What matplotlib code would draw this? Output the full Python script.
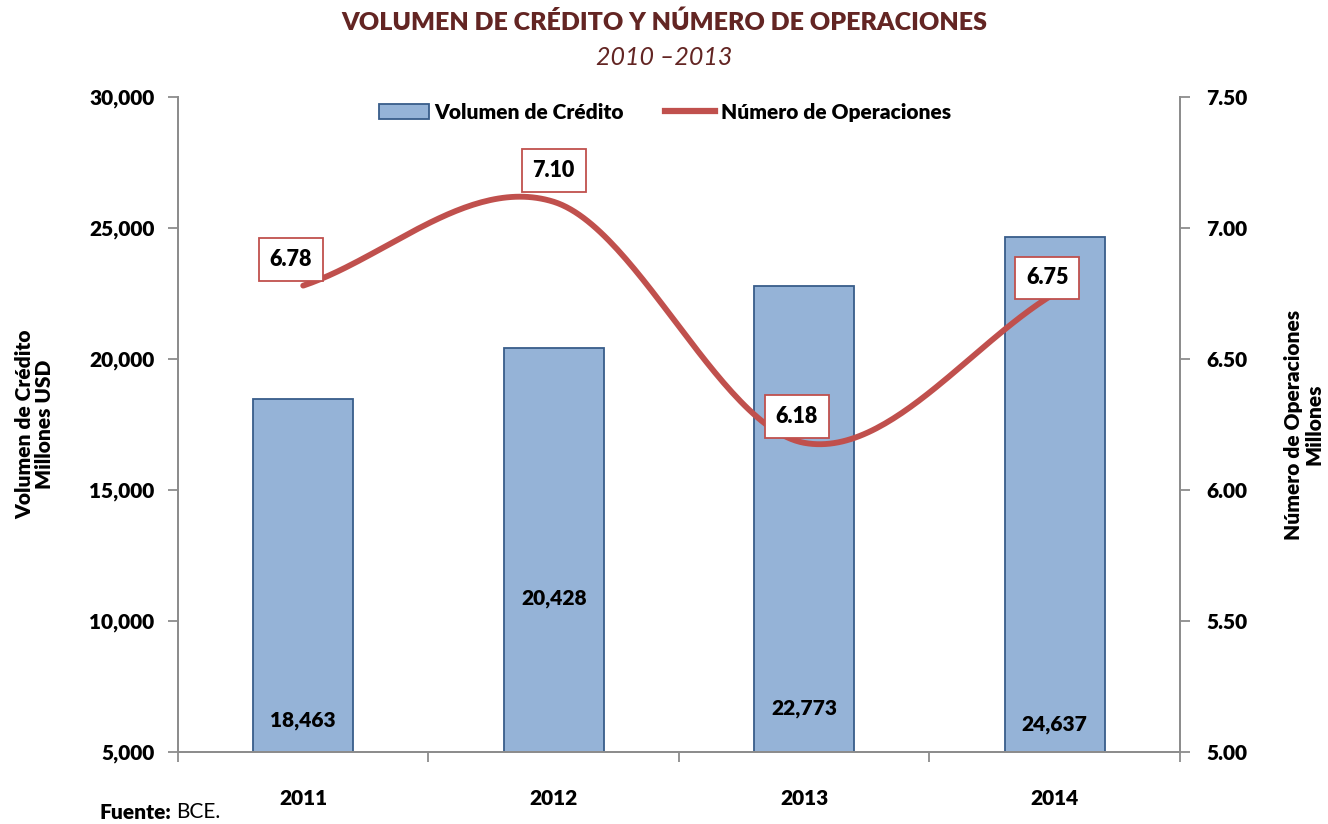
import matplotlib
matplotlib.use("Agg")
import matplotlib.pyplot as plt
import numpy as np
from matplotlib.patches import Patch
from matplotlib.lines import Line2D

plt.rcParams['font.family'] = ['Lato', 'DejaVu Sans']

#### DATA
years = ["2011", "2012", "2013", "2014"]
volumen = [18463, 20428, 22773, 24637]          # millones USD
operaciones = [6.78, 7.10, 6.18, 6.75]           # millones

# where the value labels sit (left axis units for bars, right axis for line)
bar_label_y = [6200, 10850, 6650, 6050]
line_label_dx = [-0.05, 0.0, -0.03, -0.03]
line_label_dy = [0.10, 0.12, 0.10, 0.06]

BAR_FILL = "#95B3D7"
BAR_EDGE = "#385D8A"
LINE_COL = "#C0504D"
TITLE_COL = "#632523"
AXIS_COL = "#8C8C8C"
W = 'heavy'


def smooth(xs, ys, n=60):
    # excel-ish smoothing: catmull-rom tangents, cubic bezier segments
    p = np.column_stack([xs, ys]).astype(float)
    m = np.zeros_like(p)
    m[0] = p[1] - p[0]
    m[-1] = p[-1] - p[-2]
    for i in range(1, len(p) - 1):
        m[i] = (p[i + 1] - p[i - 1]) / 2
    t = np.linspace(0, 1, n)[:, None]
    out = []
    for i in range(len(p) - 1):
        b0, b3 = p[i], p[i + 1]
        b1, b2 = b0 + m[i] / 3, b3 - m[i + 1] / 3
        seg = (1 - t) ** 3 * b0 + 3 * (1 - t) ** 2 * t * b1 + 3 * (1 - t) * t ** 2 * b2 + t ** 3 * b3
        out.append(seg if i == 0 else seg[1:])
    out = np.vstack(out)
    return out[:, 0], out[:, 1]


fig = plt.figure(figsize=(13.28, 8.24), dpi=100)
ax = fig.add_axes([0.134, 0.0874, 0.7545, 0.7949])
ax2 = ax.twinx()

x = np.arange(len(years))
ax.bar(x, volumen, width=0.4, color=BAR_FILL, edgecolor=BAR_EDGE, linewidth=1.3, zorder=2)
ax.set_xlim(-0.5, len(years) - 0.5)
ax.set_ylim(5000, 30000)
ax.set_yticks(np.arange(5000, 30001, 5000))
ax.set_yticklabels([f"{v:,}" for v in range(5000, 30001, 5000)])
ax.set_xticks(x)
ax.set_xticklabels(years)
ax.set_xticks(np.arange(-0.5, len(years), 1), minor=True)
ax.tick_params(axis='x', which='major', length=0, pad=27, labelsize=15)
ax.tick_params(axis='x', which='minor', length=7, color=AXIS_COL, width=1.3)
ax.tick_params(axis='y', length=7, color=AXIS_COL, width=1.3, labelsize=15, pad=10)
for lab in ax.get_xticklabels() + ax.get_yticklabels():
    lab.set_fontweight(W)

for i, v in enumerate(volumen):
    ax.text(x[i], bar_label_y[i], f"{v:,}", ha='center', va='center',
            fontsize=15, fontweight=W, zorder=3)

sx, sy = smooth(x, operaciones)
ax2.plot(sx, sy, color=LINE_COL, linewidth=4.2, solid_capstyle='round', zorder=4)
ax2.set_ylim(5.0, 7.5)
ax2.set_yticks(np.arange(5.0, 7.51, 0.5))
ax2.set_yticklabels([f"{v:.2f}" for v in np.arange(5.0, 7.51, 0.5)])
ax2.tick_params(axis='y', length=7, color=AXIS_COL, width=1.3, labelsize=15, pad=12)
for lab in ax2.get_yticklabels():
    lab.set_fontweight(W)

for i, v in enumerate(operaciones):
    ax2.text(x[i] + line_label_dx[i], v + line_label_dy[i], f"{v:.2f}", ha='center', va='center',
             fontsize=15.5, fontweight=W, zorder=5,
             bbox=dict(boxstyle='square,pad=0.5', facecolor='white', edgecolor=LINE_COL, linewidth=1.3))

for a in (ax, ax2):
    a.spines['top'].set_visible(False)
    for side in ('left', 'right', 'bottom'):
        a.spines[side].set_color(AXIS_COL)
        a.spines[side].set_linewidth(1.3)
ax.patch.set_visible(False)
ax2.set_zorder(ax.get_zorder() + 1)
ax2.patch.set_visible(False)

ax.set_ylabel("Volumen de Crédito\nMillones USD", fontsize=15, fontweight=W,
              linespacing=1.1, va='center')
ax.yaxis.set_label_coords(-0.143, 0.5)
ax2.set_ylabel("Número de Operaciones\nMillones", fontsize=15, fontweight=W,
               linespacing=1.1, rotation=90, va='center')
ax2.yaxis.set_label_coords(1.124, 0.5)

handles = [Patch(facecolor=BAR_FILL, edgecolor=BAR_EDGE, linewidth=1.3),
           Line2D([0], [0], color=LINE_COL, linewidth=4.5)]
ax2.legend(handles, ["Volumen de Crédito", "Número de Operaciones"], loc='upper center',
           bbox_to_anchor=(0.486, 1.02), ncol=2, frameon=False,
           prop={'weight': W, 'size': 15}, handlelength=2.4, columnspacing=2.0,
           handletextpad=0.25)

fig.text(0.5, 0.973, "VOLUMEN DE CRÉDITO Y NÚMERO DE OPERACIONES", ha='center', va='center',
         fontsize=18, fontweight=W, color=TITLE_COL)
fig.text(0.5, 0.930, "2010 \u20132013", ha='center', va='center', fontsize=18,
         style='italic', color=TITLE_COL)

t1 = fig.text(0.075, 0.014, "Fuente:", ha='left', va='center', fontsize=15, fontweight=W)
fig.canvas.draw()
bb = t1.get_window_extent()
fig.text((bb.x1 + 5) / fig.bbox.width, 0.014, "BCE.", ha='left', va='center', fontsize=15)

fig.savefig("out.png", dpi=100)
